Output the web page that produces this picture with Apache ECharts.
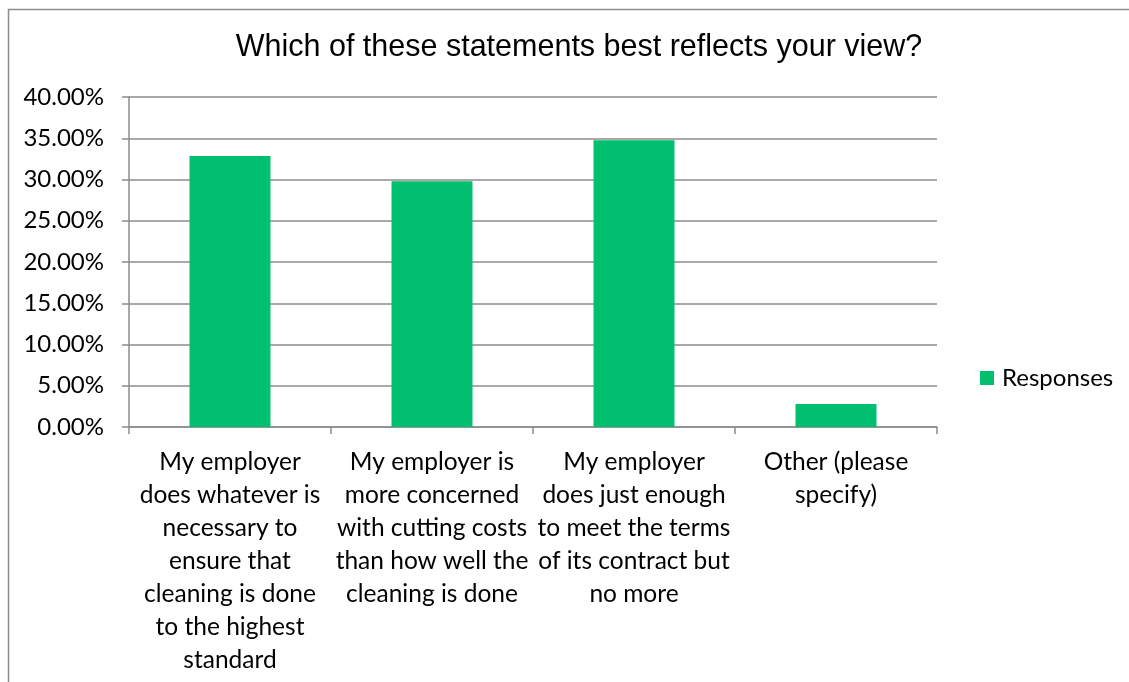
<!DOCTYPE html>
<html><head><meta charset="utf-8">
<script src="https://cdn.jsdelivr.net/npm/echarts@6/dist/echarts.min.js"></script>
<style>html,body{margin:0;padding:0;background:#fff}#c{width:1129px;height:682px}</style>
</head><body><div id="c"></div>
<script>
const titleText = 'Which of these statements best reflects your view?';
const seriesName = 'Responses';
const categories = [
  'My employer\ndoes whatever is\nnecessary to\nensure that\ncleaning is done\nto the highest\nstandard',
  'My employer is\nmore concerned\nwith cutting costs\nthan how well the\ncleaning is done',
  'My employer\ndoes just enough\nto meet the terms\nof its contract but\nno more',
  'Other (please\nspecify)'
];
const values = [32.85, 29.8, 34.75, 2.8];
const yMin = 0, yMax = 40, yStep = 5;

const font = 'Lato, "Open Sans", sans-serif';
const chart = echarts.init(document.getElementById('c'), null, {renderer: 'canvas'});
chart.setOption({
  animation: false,
  backgroundColor: '#fff',
  title: {
    text: titleText, left: 574, top: 27, textAlign: 'center',
    textStyle: {fontFamily: '"Liberation Sans", Arial, sans-serif', fontSize: 30.5, fontWeight: 'normal', color: '#000'}
  },
  legend: {
    data: [seriesName], left: 975, top: 361, orient: 'vertical',
    itemWidth: 14, itemHeight: 14, itemGap: 8, icon: 'rect',
    textStyle: {fontFamily: font, fontSize: 24, color: '#000', padding: [0, 0, 0, 3]}
  },
  grid: {left: 129, right: 192, top: 97, bottom: 255, containLabel: false},
  xAxis: {
    type: 'category', data: categories,
    axisLine: {show: true, lineStyle: {color: '#8c8c8c', width: 1.5}},
    axisTick: {show: true, length: 7, lineStyle: {color: '#8c8c8c', width: 1.5}},
    axisLabel: {fontFamily: font, fontSize: 24.5, color: '#000', margin: 19, lineHeight: 33, align: 'center', interval: 0}
  },
  yAxis: {
    type: 'value', min: yMin, max: yMax, interval: yStep,
    axisLine: {show: true, lineStyle: {color: '#8c8c8c', width: 1.5}},
    axisTick: {show: true, length: 7, lineStyle: {color: '#8c8c8c', width: 1.5}},
    splitLine: {show: true, lineStyle: {color: '#8c8c8c', width: 1.5}},
    axisLabel: {fontFamily: font, fontSize: 24, color: '#000', margin: 25,
      formatter: v => v.toFixed(2) + '%'}
  },
  series: [{
    name: seriesName, type: 'bar', data: values, barWidth: 81,
    itemStyle: {color: '#00bf6f'}
  }],
  graphic: [{
    type: 'polyline', silent: true,
    shape: {points: [[8.5, 700], [8.5, 9.5], [1140, 9.5]]},
    style: {stroke: '#8c8c8c', lineWidth: 1.5, fill: null}
  }]
});
</script></body></html>
